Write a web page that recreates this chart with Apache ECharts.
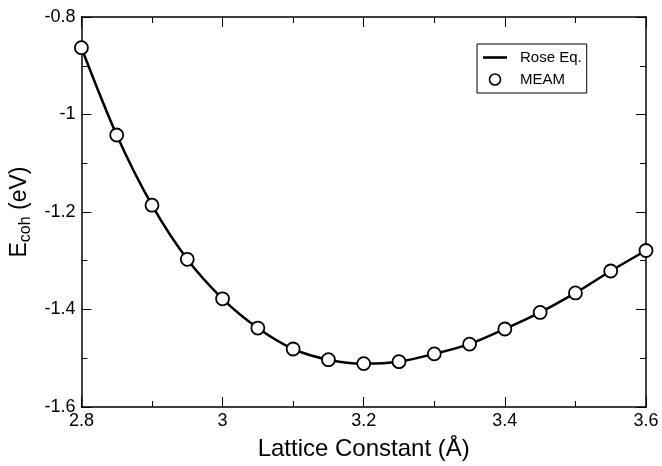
<!DOCTYPE html>
<html>
<head>
<meta charset="utf-8">
<script src="https://cdn.jsdelivr.net/npm/echarts@6/dist/echarts.min.js"></script>
<style>html,body{margin:0;padding:0;background:#fff;}#c{width:662px;height:466px;}</style>
</head>
<body>
<div id="c"></div>
<script>
const latticeConstants = [2.80, 2.85, 2.90, 2.95, 3.00, 3.05, 3.10, 3.15, 3.20, 3.25, 3.30, 3.35, 3.40, 3.45, 3.50, 3.55, 3.60];
const roseEq = [-0.863, -1.042, -1.186, -1.297, -1.378, -1.438, -1.481, -1.503, -1.511, -1.507, -1.491, -1.471, -1.440, -1.406, -1.366, -1.321, -1.279];
const meam = [-0.863, -1.042, -1.186, -1.297, -1.378, -1.438, -1.481, -1.503, -1.511, -1.507, -1.491, -1.471, -1.440, -1.406, -1.366, -1.321, -1.279];
const xTicks = [2.8, 3, 3.2, 3.4, 3.6];
const yTicks = [-0.8, -1, -1.2, -1.4, -1.6];

const FONT = 'Liberation Sans, Arial, sans-serif';
const chart = echarts.init(document.getElementById('c'));
const pair = (xs, ys) => xs.map((x, i) => [x, ys[i]]);
const findTick = (ticks, v) => { const t = ticks.find(t => Math.abs(t - v) < 1e-6); return t !== undefined ? String(t) : ''; };
const baseAxis = {
  axisLine: { show: true, onZero: false, lineStyle: { color: '#000', width: 1.5 } },
  axisTick: { show: true, inside: true, length: 10, lineStyle: { color: '#000', width: 1 } },
  minorTick: { show: true, splitNumber: 2, length: 6, lineStyle: { color: '#000', width: 1 } },
  splitLine: { show: false }
};
chart.setOption({
  animation: false,
  grid: { left: 80, right: 16, top: 17, bottom: 53 },
  legend: {
    left: 477, top: 44, orient: 'vertical',
    borderColor: '#000', borderWidth: 1, borderRadius: 0,
    padding: [6, 5, 6, 6], itemGap: 7, itemWidth: 24, itemHeight: 11,
    symbolKeepAspect: true,
    textStyle: { fontFamily: FONT, fontSize: 15, color: '#000', padding: [0, 0, 0, 8] },
    data: [
      { name: 'Rose Eq.', icon: 'path://M0,0L24,0L24,2.6L0,2.6Z', itemStyle: { color: '#000' } },
      { name: 'MEAM', icon: 'circle', itemStyle: { color: '#fff', borderColor: '#000', borderWidth: 1.6 } }
    ]
  },
  xAxis: [
    Object.assign({}, baseAxis, {
      type: 'value', min: 2.8, max: 3.6, interval: 0.2,
      name: 'Lattice Constant (Å)', nameLocation: 'middle', nameGap: 30,
      nameTextStyle: { fontFamily: FONT, fontSize: 24, color: '#000' },
      axisLabel: { fontFamily: FONT, fontSize: 18, color: '#000', margin: 5, formatter: v => findTick(xTicks, v) }
    }),
    Object.assign({}, baseAxis, {
      type: 'value', min: 2.8, max: 3.6, interval: 0.2, position: 'top',
      axisLabel: { show: false }
    })
  ],
  yAxis: [
    Object.assign({}, baseAxis, {
      type: 'value', min: -1.6, max: -0.8, interval: 0.2,
      name: '{a|E}{b|coh}{a| (eV)}', nameLocation: 'middle', nameGap: 43, nameRotate: 90,
      nameTextStyle: { fontFamily: FONT, fontSize: 23, color: '#000',
        rich: { a: { fontFamily: FONT, fontSize: 23, color: '#000' },
                b: { fontFamily: FONT, fontSize: 16, color: '#000', verticalAlign: 'bottom', padding: [12, 0, 0, 0] } } },
      axisLabel: { fontFamily: FONT, fontSize: 18, color: '#000', margin: 6, formatter: v => findTick(yTicks, v) }
    }),
    Object.assign({}, baseAxis, {
      type: 'value', min: -1.6, max: -0.8, interval: 0.2, position: 'right',
      axisLabel: { show: false }
    })
  ],
  series: [
    { name: 'Rose Eq.', type: 'line', smooth: 0.3, symbol: 'none', data: pair(latticeConstants, roseEq),
      lineStyle: { color: '#000', width: 2.5 }, itemStyle: { color: '#000' }, z: 2 },
    { name: 'MEAM', type: 'scatter', symbol: 'circle', symbolSize: 13, data: pair(latticeConstants, meam),
      itemStyle: { color: '#fff', borderColor: '#000', borderWidth: 1.8, opacity: 1 }, z: 3 }
  ]
});
</script>
</body>
</html>
